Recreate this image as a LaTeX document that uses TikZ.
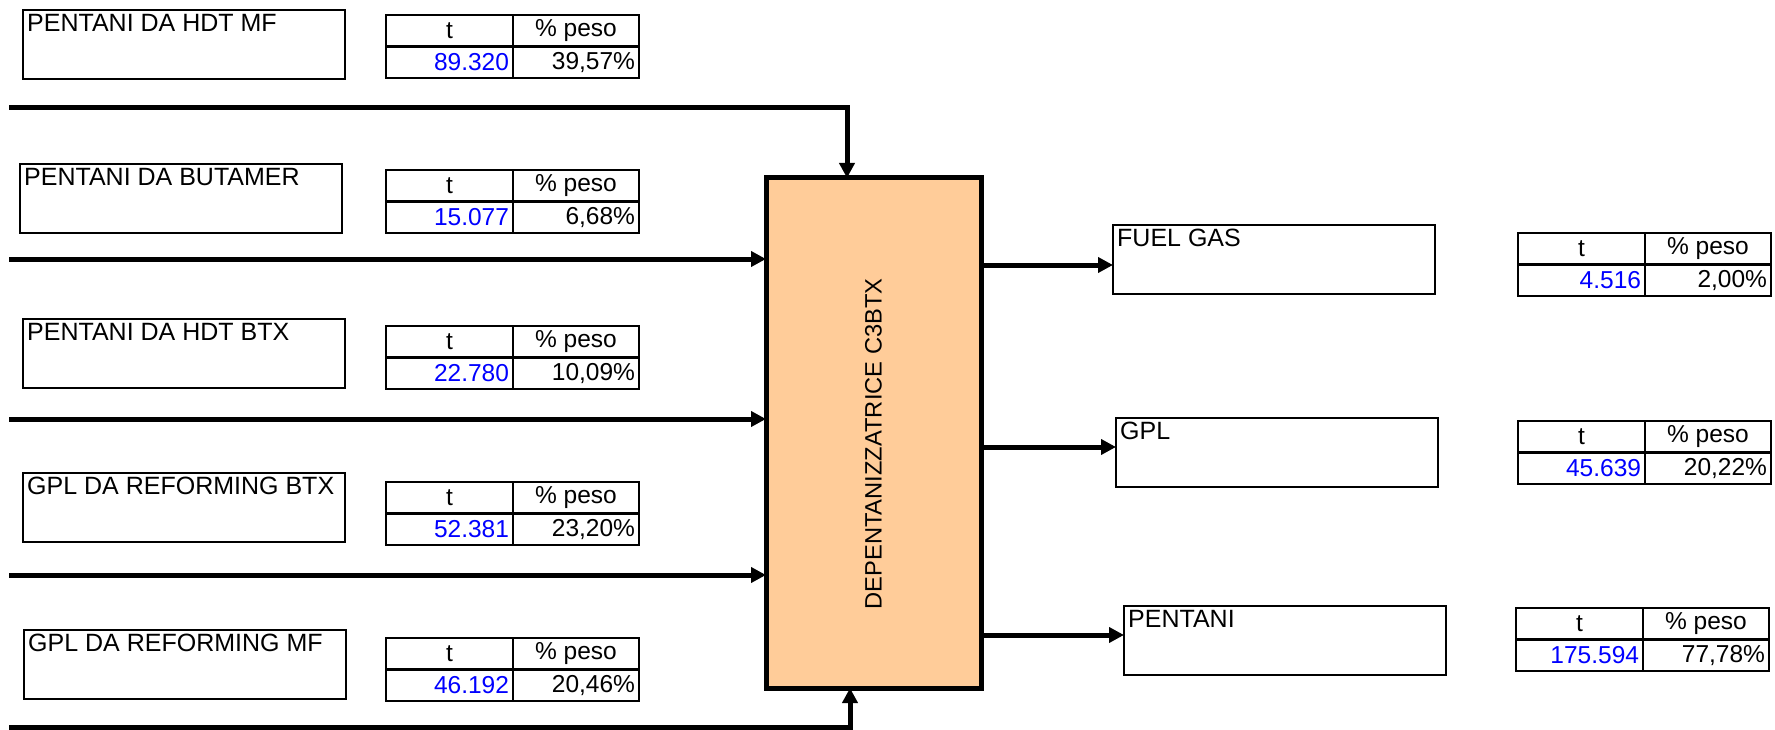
\documentclass[tikz,border=0pt]{standalone}
\usepackage{fontspec}
\setmainfont{Liberation Sans}
\usetikzlibrary{arrows.meta,calc}
\tikzset{
  base/.style={font=\fontsize{24.5}{27}\selectfont},
  inbox/.style={draw, line width=1.4pt, minimum width=322pt, minimum height=69pt, anchor=north west, outer sep=0pt, inner sep=0pt},
  boxtext/.style={font=\fontsize{25}{28}\selectfont, anchor=north west, inner sep=4pt},
  cell/.style={base, draw, line width=2.5pt, minimum height=31.5pt, inner ysep=0pt, inner xsep=4pt, outer sep=0pt, anchor=north west},
  hcell/.style={cell},
  vcell/.style={cell, text width=#1, align=right},
  flow/.style={line width=5pt, -{Triangle[length=15pt,width=15pt]}},
  mainbox/.style={draw, line width=5pt, fill=mainfill, minimum width=215pt, minimum height=510pt, anchor=north west, outer sep=0pt}
}
\definecolor{mainfill}{HTML}{FFCC99}
\definecolor{valblue}{HTML}{0000FF}
\newcommand{\mytab}[4]{%
  \node[hcell, minimum width=127pt] (#1tl) at (#2) {t};
  \node[hcell, minimum width=126pt] (#1tr) at (#1tl.north east) {\% peso};
  \node[vcell=119pt, text=valblue] (#1bl) at (#1tl.south west) {#3};
  \node[vcell=118pt] (#1br) at (#1tl.south east) {#4};
}
\newcommand{\mybox}[3]{%
  \node[inbox] (#1) at (#2) {};
  \node[boxtext] (#1txt) at (#1.north west) {#3};
}
\begin{document}
\begin{tikzpicture}[x=1pt,y=-1pt]
\useasboundingbox (0,0) rectangle (1775,730);

% input boxes
\mybox{in1}{23,10}{PENTANI DA HDT MF}
\mybox{in2}{20,164}{PENTANI DA BUTAMER}
\mybox{in3}{23,319}{PENTANI DA HDT BTX}
\mybox{in4}{23,473}{GPL DA REFORMING BTX}
\mybox{in5}{24,630}{GPL DA REFORMING MF}

% input tables
\mytab{ta}{386,15}{89.320}{39,57\%}
\mytab{tb}{386,170}{15.077}{6,68\%}
\mytab{tc}{386,326}{22.780}{10,09\%}
\mytab{td}{386,482}{52.381}{23,20\%}
\mytab{te}{386,638}{46.192}{20,46\%}

% main unit
\node[mainbox] (dep) at (766,178) {};
\node[font=\fontsize{23.7}{26}\selectfont, rotate=90] (deptxt) at ($(dep.center)+(0,11)$) {DEPENTANIZZATRICE C3BTX};

% output boxes
\mybox{fuel}{1113,225}{FUEL GAS}
\mybox{gpl}{1116,418}{GPL}
\mybox{pent}{1124,606}{PENTANI}

% output tables
\mytab{tf}{1518,233}{4.516}{2,00\%}
\mytab{tg}{1518,421}{45.639}{20,22\%}
\mytab{th}{1516,608}{175.594}{77,78\%}

% input connectors
\coordinate (s1) at (9,107.5);
\coordinate (c1) at (847,107.5);
\draw[flow] (s1) -- (c1) -- (c1 |- dep.north);
\coordinate (s2) at (9,259);
\draw[flow] (s2) -- (s2 -| dep.west);
\coordinate (s3) at (9,419);
\draw[flow] (s3) -- (s3 -| dep.west);
\coordinate (s4) at (9,575);
\draw[flow] (s4) -- (s4 -| dep.west);
\coordinate (s5) at (9,727.5);
\coordinate (c5) at (850,727.5);
\draw[flow] (s5) -- (c5) -- (c5 |- dep.south);

% output connectors
\coordinate (o1) at (981,265);
\draw[flow] (o1) -- (o1 -| fuel.west);
\coordinate (o2) at (981,447);
\draw[flow] (o2) -- (o2 -| gpl.west);
\coordinate (o3) at (981,635);
\draw[flow] (o3) -- (o3 -| pent.west);
\end{tikzpicture}
\end{document}
